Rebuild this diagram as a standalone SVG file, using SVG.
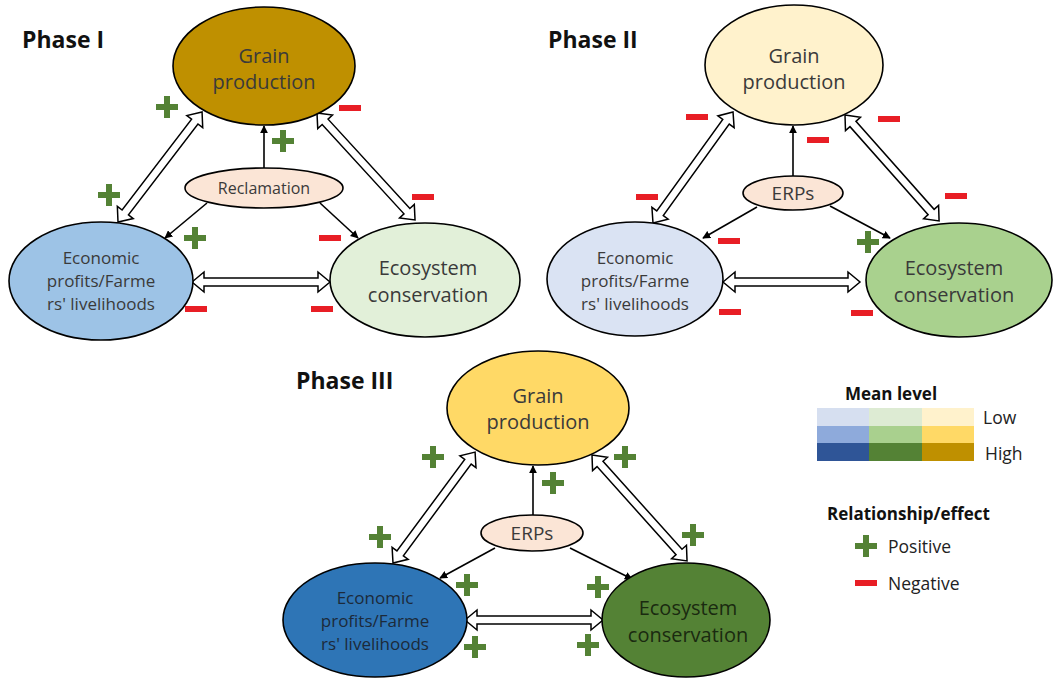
<svg xmlns="http://www.w3.org/2000/svg" xmlns:xlink="http://www.w3.org/1999/xlink" width="1057" height="678" viewBox="0 0 1057 678">
<style>
.node{stroke:#000;stroke-width:1.6}
.t{font-family:"Open Sans","Noto Sans","Liberation Sans",sans-serif;fill:#3a3a3a;text-anchor:middle}
.big{font-size:20px}
.mid{font-size:17px}
.sm{font-size:16px}
.title{font-family:"Open Sans","Noto Sans","Liberation Sans",sans-serif;font-weight:bold;fill:#111;font-size:23px}
.leg{font-family:"Open Sans","Noto Sans","Liberation Sans",sans-serif;fill:#222;font-size:17.5px}
.legb{font-family:"Open Sans","Noto Sans","Liberation Sans",sans-serif;fill:#111;font-size:17px;font-weight:bold}
.dbl{fill:#fff;stroke:#000;stroke-width:1.5;stroke-linejoin:miter}
.ln{stroke:#000;stroke-width:1.6;fill:none;marker-end:url(#ah)}
</style>
<defs>
<marker id="ah" viewBox="0 0 10 10" refX="9" refY="5" markerWidth="8" markerHeight="8" markerUnits="userSpaceOnUse" orient="auto">
<path d="M0,0 L10,5 L0,10 z" fill="#000"/>
</marker>
<g id="plus"><rect x="-11" y="-3" width="22" height="6" fill="#548235"/><rect x="-3" y="-11" width="6" height="22" fill="#548235"/></g>
<rect id="minus" x="-11" y="-3" width="22" height="6" fill="#E81E25"/>
</defs>
<rect width="1057" height="678" fill="#fff"/>

<!-- Titles -->
<text class="title" x="22" y="48">Phase I</text>
<text class="title" x="548" y="48">Phase II</text>
<text class="title" x="296" y="389">Phase III</text>

<!-- Connectors -->
<g id="connectors">
<!-- Phase I -->
<line class="ln" x1="264" y1="168" x2="264" y2="126"/>
<line class="ln" x1="207" y1="203" x2="165" y2="238"/>
<line class="ln" x1="320" y1="203" x2="358" y2="238"/>
<path class="dbl" transform="translate(118,222) rotate(-52.6)" d="M0,0 L12,-10 L12,-4 L126.4,-4 L126.4,-10 L138.4,0 L126.4,10 L126.4,4 L12,4 L12,10 Z"/>
<path class="dbl" transform="translate(317,113) rotate(47.5)" d="M0,0 L12,-10 L12,-4 L133.1,-4 L133.1,-10 L145.1,0 L133.1,10 L133.1,4 L12,4 L12,10 Z"/>
<path class="dbl" transform="translate(192,282)" d="M0,0 L12,-10 L12,-4 L126,-4 L126,-10 L138,0 L126,10 L126,4 L12,4 L12,10 Z"/>
<!-- Phase II -->
<line class="ln" x1="793" y1="176" x2="793" y2="126"/>
<line class="ln" x1="757" y1="207" x2="703" y2="238"/>
<line class="ln" x1="830" y1="206" x2="890" y2="238"/>
<path class="dbl" transform="translate(653,223) rotate(-54.2)" d="M0,0 L12,-10 L12,-4 L124.8,-4 L124.8,-10 L136.8,0 L124.8,10 L124.8,4 L12,4 L12,10 Z"/>
<path class="dbl" transform="translate(845,115) rotate(48.4)" d="M0,0 L12,-10 L12,-4 L129.7,-4 L129.7,-10 L141.7,0 L129.7,10 L129.7,4 L12,4 L12,10 Z"/>
<path class="dbl" transform="translate(723,282)" d="M0,0 L12,-10 L12,-4 L125,-4 L125,-10 L137,0 L125,10 L125,4 L12,4 L12,10 Z"/>
<!-- Phase III -->
<line class="ln" x1="533" y1="515" x2="533" y2="466"/>
<line class="ln" x1="495" y1="548" x2="440" y2="578"/>
<line class="ln" x1="570" y1="548" x2="632" y2="579"/>
<path class="dbl" transform="translate(393,563) rotate(-53.5)" d="M0,0 L12,-10 L12,-4 L126,-4 L126,-10 L138,0 L126,10 L126,4 L12,4 L12,10 Z"/>
<path class="dbl" transform="translate(592,455) rotate(48.1)" d="M0,0 L12,-10 L12,-4 L130.3,-4 L130.3,-10 L142.3,0 L130.3,10 L130.3,4 L12,4 L12,10 Z"/>
<path class="dbl" transform="translate(465,620)" d="M0,0 L12,-10 L12,-4 L126,-4 L126,-10 L138,0 L126,10 L126,4 L12,4 L12,10 Z"/>
</g>

<!-- Phase I nodes -->
<g id="p1-grain"><ellipse class="node" cx="264" cy="66" rx="91" ry="59" fill="#BF9000"/>
<text class="t big" x="264" y="63">Grain</text><text class="t big" x="264" y="89">production</text></g>
<g id="p1-recl"><ellipse class="node" cx="264" cy="188" rx="79" ry="20" fill="#FBE5D6"/>
<text class="t sm" x="264" y="194">Reclamation</text></g>
<g id="p1-econ"><ellipse class="node" cx="101" cy="281" rx="92" ry="59" fill="#9DC3E6"/>
<text class="t mid" x="101" y="264">Economic</text><text class="t mid" x="101" y="287">profits/Farme</text><text class="t mid" x="101" y="310">rs' livelihoods</text></g>
<g id="p1-eco"><ellipse class="node" cx="425" cy="280" rx="95" ry="57" fill="#E2F0D9"/>
<text class="t big" x="428" y="275">Ecosystem</text><text class="t big" x="428" y="302">conservation</text></g>

<!-- Phase II nodes -->
<g id="p2-grain"><ellipse class="node" cx="794" cy="65" rx="89" ry="60" fill="#FFF2CC"/>
<text class="t big" x="794" y="63">Grain</text><text class="t big" x="794" y="89">production</text></g>
<g id="p2-erps"><ellipse class="node" cx="793" cy="193" rx="50" ry="17" fill="#FBE5D6"/>
<text class="t" style="font-size:19px" x="793" y="200">ERPs</text></g>
<g id="p2-econ"><ellipse class="node" cx="635" cy="279" rx="88" ry="57" fill="#DAE3F3"/>
<text class="t mid" x="635" y="264">Economic</text><text class="t mid" x="635" y="287">profits/Farme</text><text class="t mid" x="635" y="310">rs' livelihoods</text></g>
<g id="p2-eco"><ellipse class="node" cx="959" cy="280" rx="93" ry="57" fill="#A9D18E"/>
<text class="t big" x="954" y="275">Ecosystem</text><text class="t big" x="954" y="302">conservation</text></g>

<!-- Phase III nodes -->
<g id="p3-grain"><ellipse class="node" cx="538" cy="408" rx="91" ry="57" fill="#FFD966"/>
<text class="t big" x="538" y="403">Grain</text><text class="t big" x="538" y="429">production</text></g>
<g id="p3-erps"><ellipse class="node" cx="532" cy="533" rx="51" ry="18" fill="#FBE5D6"/>
<text class="t" style="font-size:19px" x="532" y="540">ERPs</text></g>
<g id="p3-econ"><ellipse class="node" cx="375" cy="620" rx="92" ry="57" fill="#2E75B6"/>
<text class="t mid" style="fill:#1c2a3a" x="375" y="604">Economic</text><text class="t mid" style="fill:#1c2a3a" x="375" y="627">profits/Farme</text><text class="t mid" style="fill:#1c2a3a" x="375" y="650">rs' livelihoods</text></g>
<g id="p3-eco"><ellipse class="node" cx="686" cy="620" rx="84" ry="57" fill="#548235"/>
<text class="t big" style="fill:#1a2a10" x="688" y="615">Ecosystem</text><text class="t big" style="fill:#1a2a10" x="688" y="642">conservation</text></g>

<!-- Signs -->
<g id="signs">
<use href="#plus" x="167" y="107"/>
<use href="#plus" x="109" y="195"/>
<use href="#plus" x="283" y="141"/>
<use href="#plus" x="195" y="238"/>
<use href="#minus" x="350" y="108"/>
<use href="#minus" x="423" y="197"/>
<use href="#minus" x="330" y="238"/>
<use href="#minus" x="196" y="309"/>
<use href="#minus" x="322" y="309"/>

<use href="#minus" x="697" y="117"/>
<use href="#minus" x="818" y="140"/>
<use href="#minus" x="889" y="119"/>
<use href="#minus" x="647" y="197"/>
<use href="#minus" x="956" y="196"/>
<use href="#minus" x="729" y="241"/>
<use href="#plus" x="868" y="242"/>
<use href="#minus" x="730" y="312"/>
<use href="#minus" x="862" y="313"/>

<use href="#plus" x="433" y="457"/>
<use href="#plus" x="553" y="483"/>
<use href="#plus" x="625" y="457"/>
<use href="#plus" x="380" y="537"/>
<use href="#plus" x="693" y="535"/>
<use href="#plus" x="467" y="585"/>
<use href="#plus" x="598" y="587"/>
<use href="#plus" x="475" y="647"/>
<use href="#plus" x="588" y="645"/>
</g>

<!-- Legend -->
<g id="legend">
<text class="legb" x="845" y="400">Mean level</text>
<rect x="817" y="408" width="53" height="18" fill="#D6DFF0"/>
<rect x="869" y="408" width="53" height="18" fill="#DDEBD3"/>
<rect x="922" y="408" width="52" height="18" fill="#FFF2CC"/>
<rect x="817" y="426" width="53" height="17.5" fill="#8EAADB"/>
<rect x="869" y="426" width="53" height="17.5" fill="#A9D08E"/>
<rect x="922" y="426" width="52" height="17.5" fill="#FFD966"/>
<rect x="817" y="443" width="53" height="18" fill="#2F5597"/>
<rect x="869" y="443" width="53" height="18" fill="#548235"/>
<rect x="922" y="443" width="52" height="18" fill="#BF9000"/>
<text class="leg" x="983" y="424">Low</text>
<text class="leg" x="985" y="460">High</text>
<text class="legb" x="827" y="520">Relationship/effect</text>
<use href="#plus" x="866" y="546"/>
<text class="leg" x="888" y="553">Positive</text>
<use href="#minus" x="866" y="583"/>
<text class="leg" x="888" y="590">Negative</text>
</g>
</svg>
